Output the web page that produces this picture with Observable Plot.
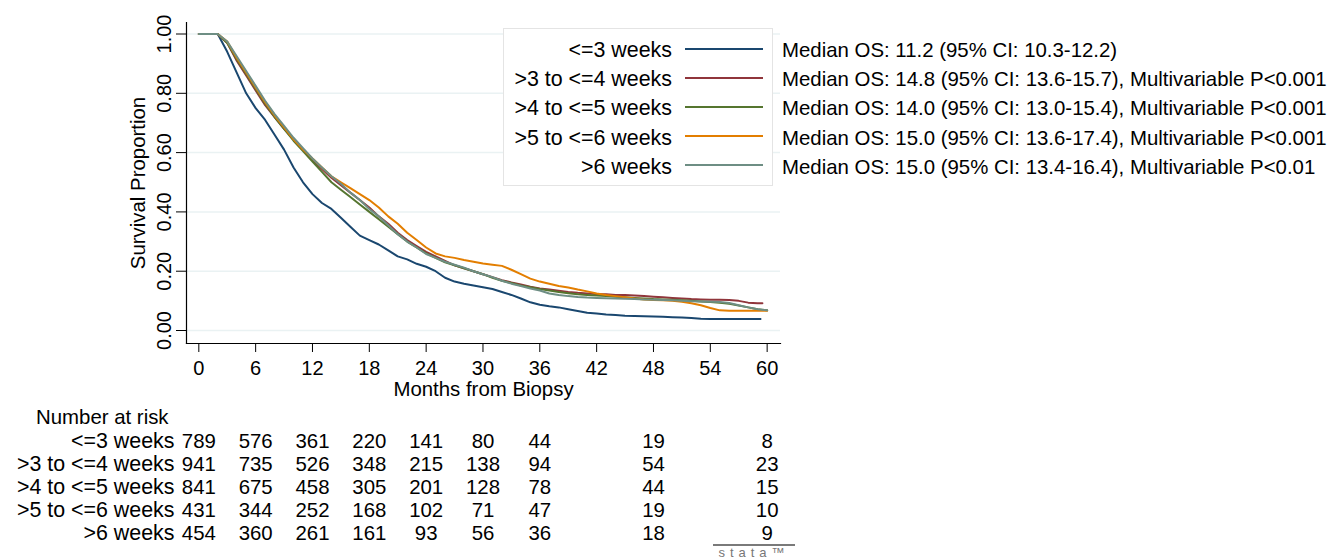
<!DOCTYPE html>
<html><head><meta charset="utf-8">
<script src="https://cdn.jsdelivr.net/npm/d3@7"></script>
<script src="https://cdn.jsdelivr.net/npm/@observablehq/plot@0.6"></script>
<style>
body{margin:0;background:#fff;font-family:"Liberation Sans",Arial,Helvetica,sans-serif;color:#000;}
#wrap{position:relative;width:1339px;height:559px;overflow:hidden;background:#fff;}
#km{position:absolute;left:0;top:0;}
#risk{position:absolute;left:0;top:400px;}
.abs{position:absolute;white-space:nowrap;}
#legendBox{position:absolute;left:503px;top:28px;width:268px;height:156px;border:1px solid #e4e4e4;background:#fff;}
.lg{font-size:20.4px;line-height:24px;}
.lgl{font-size:21.4px;line-height:24px;}
#nar{left:36px;top:405px;font-size:20.4px;line-height:24px;}
#stata{left:713px;top:544px;width:82px;border-top:2px solid #7a7a7a;text-align:center;font-size:13px;line-height:13px;letter-spacing:5px;color:#777;}
</style></head>
<body><div id="wrap"></div>
<script>
// ---------- data ----------
const groups = ["<=3 weeks", ">3 to <=4 weeks", ">4 to <=5 weeks", ">5 to <=6 weeks", ">6 weeks"];
const colors = ["#1a476f", "#90353b", "#55752f", "#e37e00", "#6e8e84"];
const medianLabels = [
  "Median OS: 11.2 (95% CI: 10.3-12.2)",
  "Median OS: 14.8 (95% CI: 13.6-15.7), Multivariable P<0.001",
  "Median OS: 14.0 (95% CI: 13.0-15.4), Multivariable P<0.001",
  "Median OS: 15.0 (95% CI: 13.6-17.4), Multivariable P<0.001",
  "Median OS: 15.0 (95% CI: 13.4-16.4), Multivariable P<0.01"
];
const monthGrid = [0,2,3,4,5,6,7,8,9,10,11,12,13,14,15,16,17,18,19,20,21,22,23,24,25,26,27,28,29,30,
  31,32,33,34,35,36,37,38,39,40,41,42,43,44,45,46,47,48,49,50,51,52,53,54,55,56,57,58,59];
const surv0 = [1,1,0.94,0.87,0.80,0.75,0.71,0.66,0.61,0.55,0.50,0.46,0.43,0.41,0.38,0.35,0.32,0.305,0.29,0.27,
  0.25,0.24,0.225,0.215,0.20,0.178,0.165,0.158,0.152,0.146,0.14,0.13,0.12,0.108,0.095,0.087,0.082,0.078,0.072,0.066,
  0.06,0.057,0.054,0.052,0.05,0.049,0.048,0.047,0.046,0.045,0.044,0.042,0.04,0.039,0.039,0.039,0.039,0.039,0.039];
const surv1 = [1,1,0.97,0.91,0.86,0.81,0.76,0.72,0.68,0.645,0.61,0.575,0.545,0.515,0.49,0.465,0.44,0.415,0.385,0.36,
  0.33,0.305,0.285,0.265,0.25,0.235,0.22,0.21,0.2,0.19,0.18,0.17,0.162,0.155,0.148,0.142,0.138,0.134,0.13,0.127,
  0.125,0.123,0.122,0.12,0.12,0.118,0.116,0.114,0.112,0.11,0.108,0.106,0.105,0.104,0.104,0.103,0.1,0.094,0.092];
const surv2 = [1,1,0.97,0.915,0.865,0.815,0.765,0.72,0.68,0.64,0.605,0.57,0.535,0.50,0.475,0.45,0.425,0.40,0.375,0.35,
  0.325,0.30,0.28,0.26,0.245,0.23,0.22,0.21,0.2,0.19,0.178,0.168,0.16,0.152,0.146,0.14,0.135,0.13,0.126,0.122,
  0.12,0.118,0.116,0.114,0.112,0.11,0.108,0.106,0.105,0.104,0.102,0.1,0.098,0.096,0.094,0.09,0.084,0.078,0.072];
const surv3 = [1,1,0.975,0.92,0.87,0.82,0.77,0.725,0.685,0.645,0.61,0.58,0.55,0.52,0.50,0.48,0.46,0.44,0.415,0.385,
  0.36,0.33,0.305,0.28,0.26,0.25,0.245,0.238,0.232,0.226,0.222,0.218,0.205,0.19,0.175,0.165,0.158,0.15,0.145,0.138,
  0.132,0.125,0.12,0.116,0.112,0.108,0.105,0.103,0.102,0.1,0.097,0.092,0.085,0.076,0.068,0.067,0.067,0.067,0.067];
const surv4 = [1,1,0.975,0.925,0.875,0.825,0.775,0.73,0.69,0.65,0.615,0.58,0.55,0.52,0.495,0.465,0.44,0.41,0.385,0.355,
  0.325,0.30,0.28,0.258,0.245,0.232,0.222,0.212,0.2,0.19,0.18,0.168,0.158,0.15,0.142,0.135,0.125,0.12,0.116,0.113,
  0.111,0.11,0.109,0.108,0.107,0.106,0.105,0.104,0.103,0.102,0.1,0.099,0.098,0.097,0.096,0.093,0.085,0.078,0.072];
const survAll = [surv0, surv1, surv2, surv3, surv4];
const endMonth = [59.3, 59.5, 60, 60, 60];
const endSurv = [0.039, 0.092, 0.068, 0.067, 0.068];

const xTicks = [0,6,12,18,24,30,36,42,48,54,60];
const yTicks = [0,0.2,0.4,0.6,0.8,1];

const riskMonths = [0,6,12,18,24,30,36,48,60];
const risk0 = [789,576,361,220,141,80,44,19,8];
const risk1 = [941,735,526,348,215,138,94,54,23];
const risk2 = [841,675,458,305,201,128,78,44,15];
const risk3 = [431,344,252,168,102,71,47,19,10];
const risk4 = [454,360,261,161,93,56,36,18,9];
const riskAll = [risk0, risk1, risk2, risk3, risk4];

// ---------- tables ----------
const kmData = [];
groups.forEach((g, i) => {
  monthGrid.forEach((m, j) => kmData.push({group: g, month: m, surv: survAll[i][j]}));
  kmData.push({group: g, month: endMonth[i], surv: endSurv[i]});
});
const riskData = [];
groups.forEach((g, i) => riskMonths.forEach((m, j) => riskData.push({group: g, month: m, n: riskAll[i][j]})));

const font = '"Liberation Sans", Arial, Helvetica, sans-serif';
const xDomain = [-1.3, 61.41];
const wrap = document.getElementById("wrap");

const km = Plot.plot({
  width: 1339, height: 400,
  marginLeft: 186, marginRight: 559, marginTop: 22, marginBottom: 57,
  style: {fontFamily: font, fontSize: "20px", color: "#000", background: "transparent", overflow: "visible"},
  x: {domain: xDomain},
  y: {domain: [-0.0438, 1.0388]},
  color: {domain: groups, range: colors},
  marks: [
    Plot.ruleY(yTicks, {stroke: "#eaf2f3", strokeWidth: 1.5}),
    Plot.line(kmData, {x: "month", y: "surv", z: "group", stroke: "group", strokeWidth: 2, curve: "linear"}),
    Plot.frame({anchor: "left", stroke: "#000", strokeWidth: 1.2}),
    Plot.frame({anchor: "bottom", stroke: "#000", strokeWidth: 1.2}),
    Plot.axisX({ticks: xTicks, tickSize: 9, tickPadding: 8, label: null, fontSize: 20, stroke: "#000"}),
    Plot.axisY({ticks: yTicks, tickFormat: d3.format(".2f"), tickRotate: -90, tickSize: 10, tickPadding: 6, label: null, fontSize: 20}),
    Plot.text(["Survival Proportion"], {frameAnchor: "left", rotate: -90, dx: -48, textAnchor: "middle", lineAnchor: "middle", fontSize: 20.4}),
    Plot.text(["Months from Biopsy"], {frameAnchor: "bottom", dy: 46, textAnchor: "middle", lineAnchor: "middle", fontSize: 20.4})
  ]
});
km.id = "km";
wrap.appendChild(km);

const rk = Plot.plot({
  width: 1339, height: 159,
  marginLeft: 186, marginRight: 559, marginTop: 40, marginBottom: 25,
  style: {fontFamily: font, fontSize: "20px", color: "#000", background: "transparent", overflow: "visible"},
  x: {domain: xDomain, axis: null},
  y: {type: "point", domain: groups, padding: 0},
  marks: [
    Plot.axisY({tickSize: 0, tickPadding: 12, label: null, fontSize: 21.4}),
    Plot.text(riskData, {x: "month", y: "group", text: "n", fontSize: 20.4})
  ]
});
rk.id = "risk";
wrap.appendChild(rk);

// ---------- legend ----------
const box = document.createElement("div");
box.id = "legendBox";
wrap.appendChild(box);
groups.forEach((g, i) => {
  const cy = 50 + i * 29.2;
  const lab = document.createElement("div");
  lab.className = "abs lgl";
  lab.style.right = (1339 - 672) + "px";
  lab.style.top = (cy - 12) + "px";
  lab.textContent = g;
  wrap.appendChild(lab);
  const ln = document.createElementNS("http://www.w3.org/2000/svg", "svg");
  ln.setAttribute("width", 80); ln.setAttribute("height", 6);
  ln.style.position = "absolute"; ln.style.left = "684px"; ln.style.top = (cy - 4.5) + "px";
  ln.innerHTML = `<line x1="1" x2="79" y1="3" y2="3" stroke="${colors[i]}" stroke-width="2"/>`;
  wrap.appendChild(ln);
  const med = document.createElement("div");
  med.className = "abs lg";
  med.style.left = "782px";
  med.style.top = (cy - 12) + "px";
  med.textContent = medianLabels[i];
  wrap.appendChild(med);
});
const nar = document.createElement("div");
nar.className = "abs"; nar.id = "nar"; nar.textContent = "Number at risk";
wrap.appendChild(nar);
const st = document.createElement("div");
st.className = "abs"; st.id = "stata"; st.textContent = "stata\u2122";
wrap.appendChild(st);
</script>
</body></html>
